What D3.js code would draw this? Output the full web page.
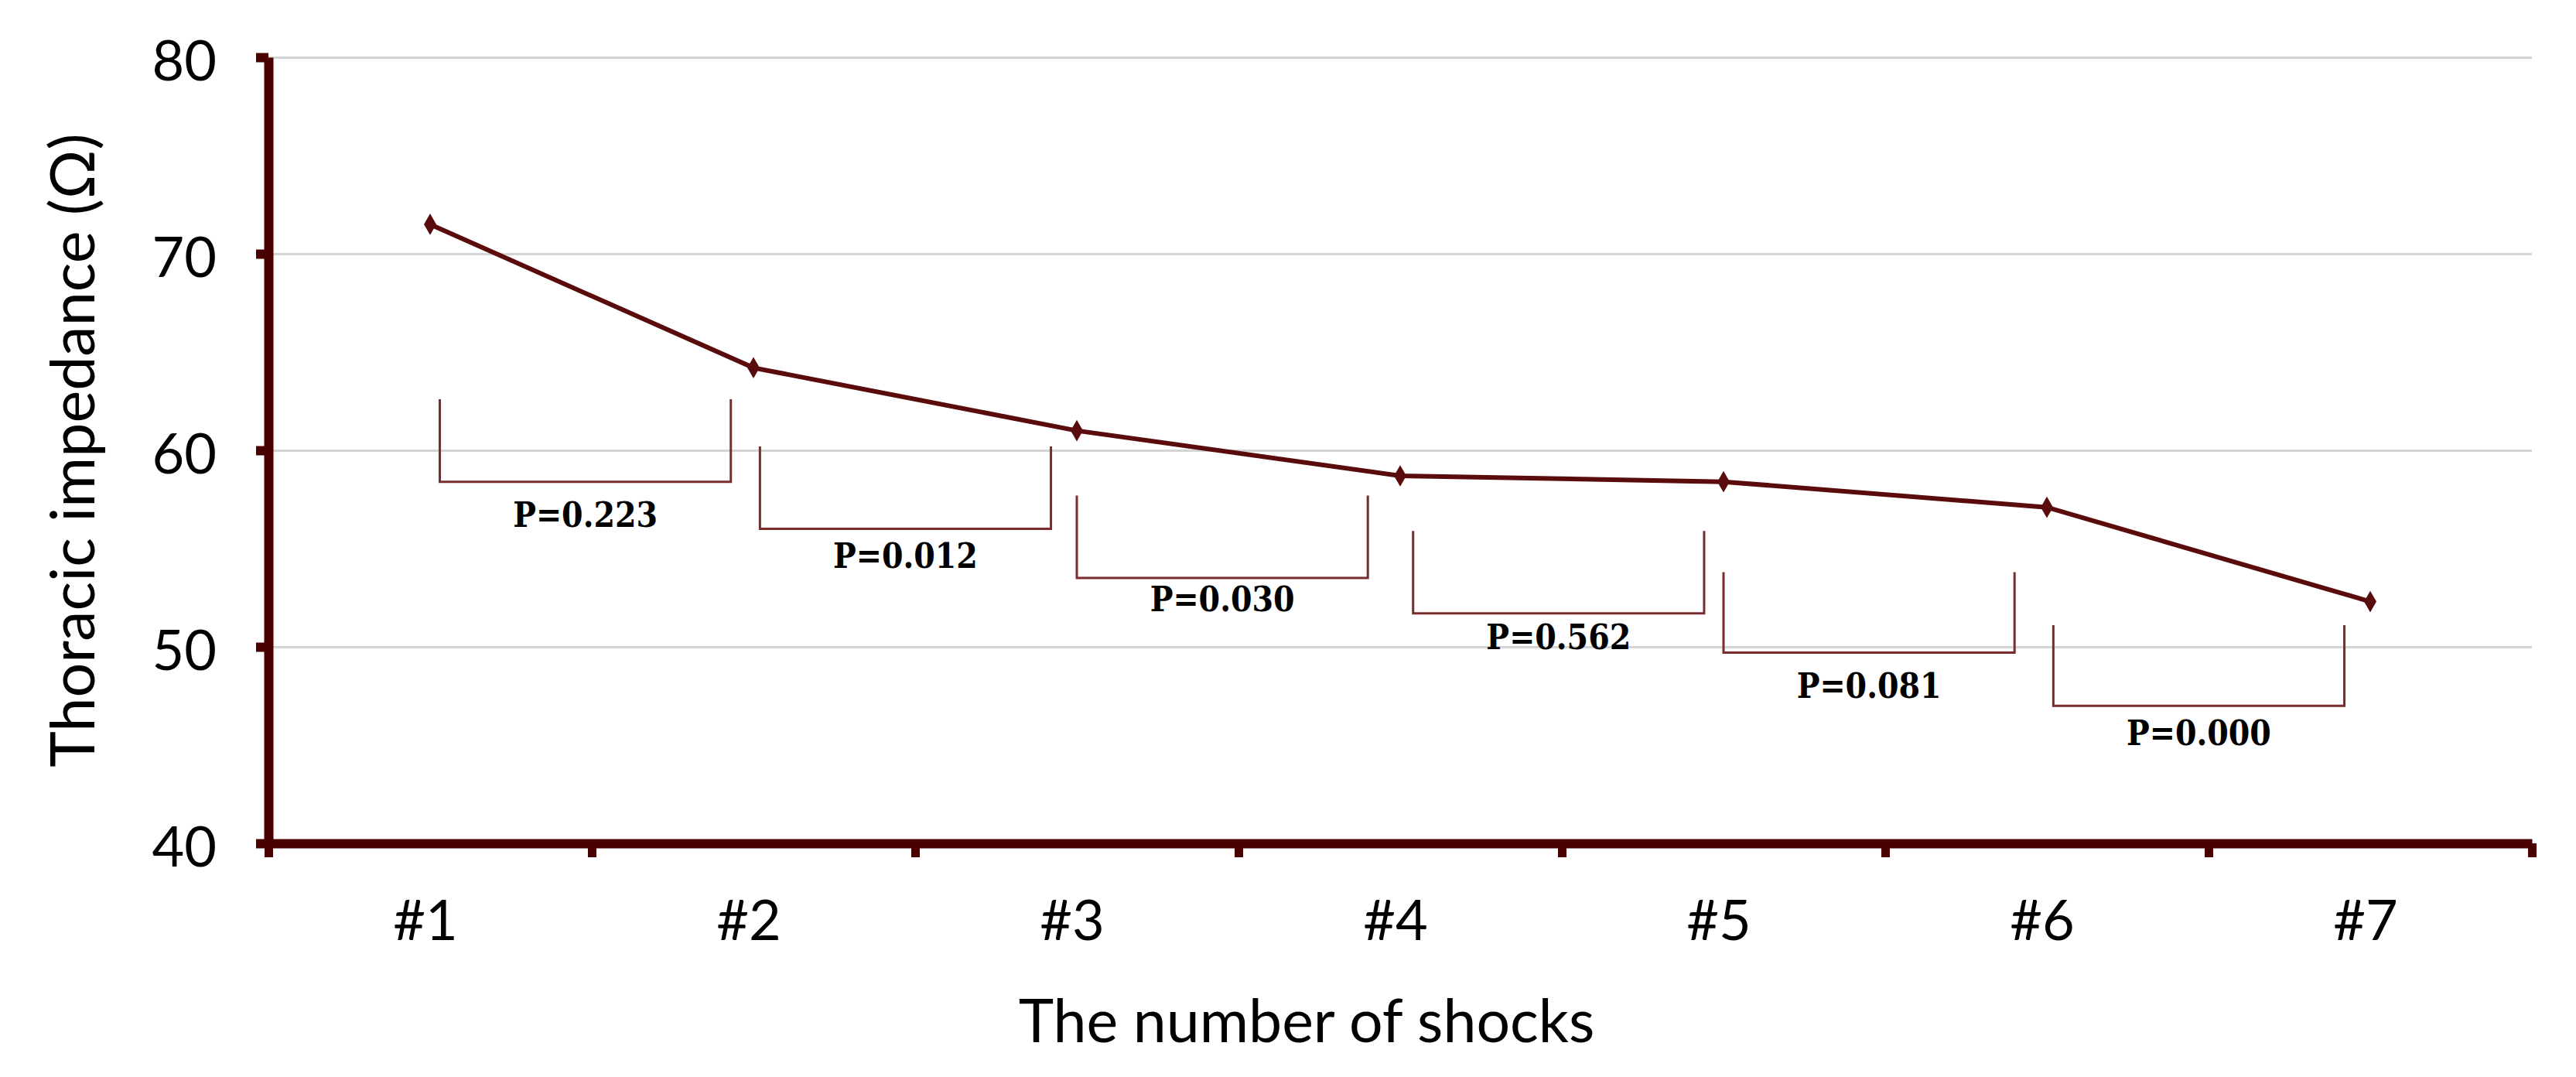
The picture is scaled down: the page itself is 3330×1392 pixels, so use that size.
<!DOCTYPE html>
<html>
<head>
<meta charset="utf-8">
<script src="https://cdn.jsdelivr.net/npm/d3@7"></script>
<style>
  body { margin: 0; background: #fff; }
  text { font-family: Lato, "Open Sans", sans-serif; fill: #000; }
  .pval { font-family: "DejaVu Serif", serif; font-weight: bold; font-stretch: condensed; }
</style>
</head>
<body>
<svg id="chart" width="3330" height="1392"></svg>
<script>
// data
const shocks = ["#1", "#2", "#3", "#4", "#5", "#6", "#7"];
const impedance = [71.5, 64.2, 61.0, 58.7, 58.4, 57.1, 52.3];
const yTicks = [40, 50, 60, 70, 80];

// comparison brackets (x in shock units, y in ohms)
const pValues = ["P=0.223", "P=0.012", "P=0.030", "P=0.562", "P=0.081", "P=0.000"];
const bracketFrom = [1.03, 2.02, 3.0, 4.04, 5.0, 6.02];
const bracketTo = [1.93, 2.92, 3.9, 4.94, 5.9, 6.92];
const bracketTop = [62.6, 60.2, 57.7, 55.9, 53.8, 51.1];
const bracketBottom = [58.4, 56.0, 53.5, 51.7, 49.7, 47.0];
const labelBase = [56.1, 54.0, 51.8, 49.9, 47.4, 45.0];

const svg = d3.select('#chart');
const plotLeft = 347, plotRight = 3273, plotTop = 74, plotBottom = 1090;
const axisColor = '#480000';
const lineColor = '#5a0c0c';
const bracketColor = '#7a2c2c';

let x = d3.scaleBand().domain(shocks).range([plotLeft, plotRight]).padding(0);
let xLin = d3.scaleLinear().domain([0.5, shocks.length + 0.5]).range([plotLeft, plotRight]);
let y = d3.scaleLinear().domain([40, 80]).range([plotBottom, plotTop]);

// gridlines
svg.append('g')
    .attr('transform', `translate(${plotLeft},0)`)
    .call(d3.axisLeft(y).tickValues(yTicks.filter(v => v > 40)).tickSize(-(plotRight - plotLeft)).tickFormat(''))
    .call(g => g.select('.domain').remove())
    .call(g => g.selectAll('line').attr('stroke', '#d4d4d4').attr('stroke-width', 3));

// y axis
let yAxis = svg.append('g')
    .attr('transform', `translate(${plotLeft},0)`)
    .call(d3.axisLeft(y).tickValues(yTicks).tickSize(16).tickSizeOuter(0).tickFormat(''));
yAxis.select('.domain').attr('stroke', axisColor).attr('stroke-width', 12);
yAxis.selectAll('line').attr('stroke', axisColor).attr('stroke-width', 12);

svg.append('g').selectAll('text')
    .data(yTicks)
    .enter()
    .append('text')
    .attr('x', 280)
    .attr('y', d => y(d))
    .attr('dy', '0.42em')
    .attr('text-anchor', 'end')
    .style('font-size', '72px')
    .text(d => d);

// x axis: tick marks between categories
let xAxis = svg.append('g')
    .attr('transform', `translate(0,${plotBottom})`)
    .call(d3.axisBottom(xLin).tickValues(d3.range(0.5, shocks.length + 1, 1)).tickSize(18).tickSizeOuter(0).tickFormat(''));
xAxis.select('.domain').attr('stroke', axisColor).attr('stroke-width', 12);
xAxis.selectAll('line').attr('stroke', axisColor).attr('stroke-width', 11);

svg.append('g')
    .attr('transform', `translate(-6,1215)`)
    .call(d3.axisBottom(x).tickSize(0).tickPadding(0))
    .call(g => g.select('.domain').remove())
    .call(g => g.selectAll('text').attr('dy', 0).style('font-size', '72px').attr('font-family', 'Lato').attr('fill', '#000'));

// axis titles
svg.append('text')
    .attr('x', 1689)
    .attr('y', 1347)
    .attr('text-anchor', 'middle')
    .style('font-size', '77px')
    .text('The number of shocks');

svg.append('text')
    .attr('transform', 'translate(122,582) rotate(-90)')
    .attr('text-anchor', 'middle')
    .style('font-size', '79px')
    .text('Thoracic impedance (Ω)');

// brackets
pValues.forEach(function(p, i) {
    let x0 = xLin(bracketFrom[i]), x1 = xLin(bracketTo[i]);
    let yt = y(bracketTop[i]), yb = y(bracketBottom[i]);
    svg.append('path')
        .attr('d', `M${x0},${yt}V${yb}H${x1}V${yt}`)
        .attr('fill', 'none')
        .attr('stroke', bracketColor)
        .attr('stroke-width', 3);
    svg.append('text')
        .attr('class', 'pval')
        .attr('x', (x0 + x1) / 2)
        .attr('y', y(labelBase[i]))
        .attr('text-anchor', 'middle')
        .style('font-size', '44px')
        .text(p);
});

// data line
let line = d3.line()
    .x((d, i) => x(shocks[i]) + x.bandwidth() / 2)
    .y(d => y(d));

svg.append('path')
    .datum(impedance)
    .attr('d', line)
    .attr('fill', 'none')
    .attr('stroke', lineColor)
    .attr('stroke-width', 6);

svg.selectAll('path.marker')
    .data(impedance)
    .enter()
    .append('path')
    .attr('class', 'marker')
    .attr('d', d3.symbol(d3.symbolDiamond, 220))
    .attr('transform', (d, i) => `translate(${x(shocks[i]) + x.bandwidth() / 2},${y(d)})`)
    .attr('fill', lineColor);
</script>
</body>
</html>
